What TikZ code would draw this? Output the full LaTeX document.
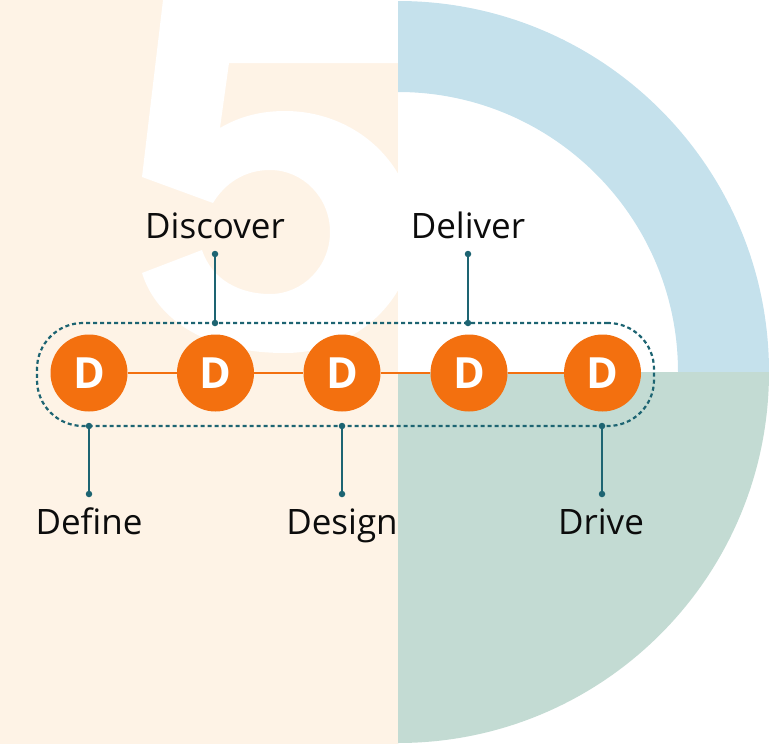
\documentclass[tikz,border=0pt]{standalone}
\usepackage{fontspec}
\setmainfont{Open Sans}
\definecolor{cream}{HTML}{FEF3E6}
\definecolor{skyband}{HTML}{C5E1EC}
\definecolor{sageband}{HTML}{C3DBD3}
\definecolor{dorange}{HTML}{F3700F}
\definecolor{pinline}{HTML}{1D6472}
\definecolor{ink}{HTML}{0C0C0C}

\tikzstyle{stagecircle} = [circle, fill=dorange, minimum size=77pt, inner sep=0pt, text=white, font=\fontsize{43}{43}\selectfont\bfseries]
\tikzstyle{stagelabel} = [anchor=base, inner sep=0pt, text=ink, font=\fontsize{35}{40}\selectfont]
\tikzstyle{knob} = [circle, fill=pinline, minimum size=6.5pt, inner sep=0pt]
\tikzstyle{stick} = [draw=pinline, line width=1.6pt]

\begin{document}
\begin{tikzpicture}[x=1pt, y=-1pt]
\useasboundingbox (0,0) rectangle (769,744);
%backdrop
\fill[cream] (0,0) rectangle (398,744);
%begin big five
\fill[white] (163,0) -- (400,0) -- (400,63) -- (229,63) -- (220,128)
    .. controls (240,116) and (262,111) .. (285,111)
    arc[start angle=-90, end angle=90, x radius=129, y radius=121]
    .. controls (200,353) and (155,315) .. (142,273)
    -- (202,250)
    .. controls (212,280) and (240,294) .. (270,294)
    arc[start angle=90, end angle=-90, x radius=60, y radius=62]
    .. controls (245,170) and (225,183) .. (213,203)
    -- (142,177) -- cycle;
%end big five
%begin quarters
\fill[skyband] (398,1) arc[start angle=-90, end angle=0, radius=371]
    -- (678,372) arc[start angle=0, end angle=-90, radius=280] -- cycle;
\fill[sageband] (398,372) -- (769,372) arc[start angle=0, end angle=90, radius=371] -- cycle;
%end quarters
%frame
\node[draw=pinline, line width=2.2pt, dash pattern=on 4pt off 3pt, rounded corners=46pt,
      minimum width=617pt, minimum height=103pt, inner sep=0pt] (frame) at (345.5,374.5) {};
%begin stages
\node[stagecircle] (define)   at (89,373)  {D};
\node[stagecircle] (discover) at (215.5,373) {D};
\node[stagecircle] (design)   at (342,373) {D};
\node[stagecircle] (deliver)  at (469,373) {D};
\node[stagecircle] (drive)    at (602.5,373) {D};
\draw[dorange, line width=2pt] (define) -- (discover) -- (design) -- (deliver) -- (drive);
%end stages
%begin labels above
\node[stagelabel] (discoverlabel) at (215,238) {Discover};
\node[knob] (discovertop) at (215,254) {};
\node[knob] (discoverbot) at (215,323) {};
\draw[stick] (discovertop) -- (discoverbot);
\node[stagelabel] (deliverlabel) at (468,238) {Deliver};
\node[knob] (delivertop) at (468,254) {};
\node[knob] (deliverbot) at (468,323) {};
\draw[stick] (delivertop) -- (deliverbot);
%end labels above
%begin labels below
\node[stagelabel] (definelabel) at (89,534) {Define};
\node[knob] (definetop) at (89,426) {};
\node[knob] (definebot) at (89,494) {};
\draw[stick] (definetop) -- (definebot);
\node[stagelabel] (designlabel) at (342,534) {Design};
\node[knob] (designtop) at (342,426) {};
\node[knob] (designbot) at (342,494) {};
\draw[stick] (designtop) -- (designbot);
\node[stagelabel] (drivelabel) at (601,534) {Drive};
\node[knob] (drivetop) at (602,426) {};
\node[knob] (drivebot) at (602,494) {};
\draw[stick] (drivetop) -- (drivebot);
%end labels below
\end{tikzpicture}
\end{document}
